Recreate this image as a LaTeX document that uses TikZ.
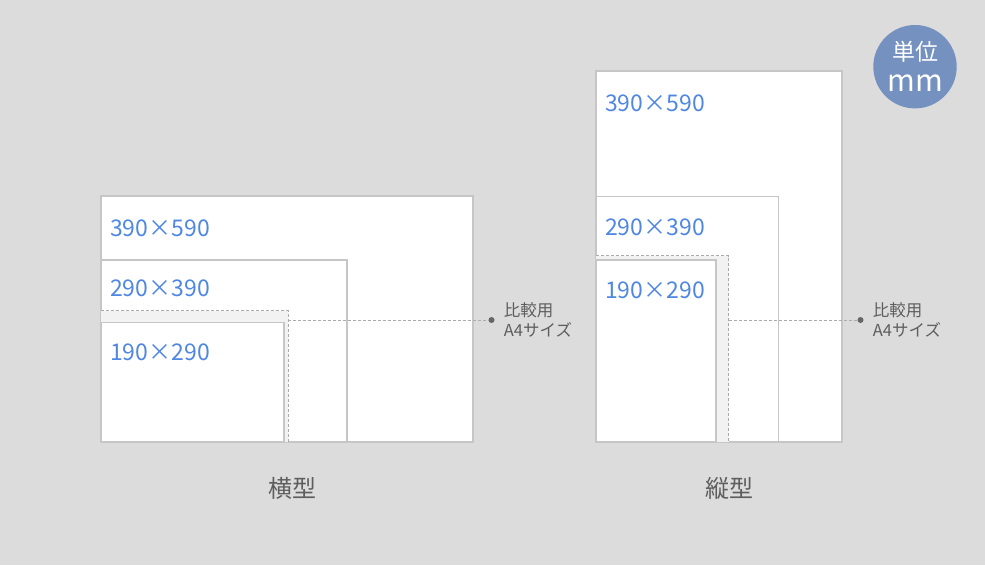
\documentclass[tikz,border=0pt]{standalone}
\usepackage{fontspec}
\setmainfont{Noto Sans CJK JP}
\usetikzlibrary{positioning}
\definecolor{bggray}{HTML}{DCDCDC}
\definecolor{edgegray}{HTML}{C6C6C6}
\definecolor{a4gray}{HTML}{F2F2F2}
\definecolor{dashgray}{HTML}{ABABAB}
\definecolor{numblue}{HTML}{4F87E2}
\definecolor{textgray}{HTML}{5E5E5E}
\definecolor{dotgray}{HTML}{666666}
\definecolor{unitblue}{HTML}{7591C0}

\begin{document}
\begin{tikzpicture}[
    x=1pt, y=-1pt,
    sheet/.style={rectangle, draw=edgegray, line width=1.5pt, fill=white, inner sep=0pt, outer sep=0pt, anchor=south west},
    a4sheet/.style={rectangle, fill=a4gray, inner sep=0pt, outer sep=0pt, anchor=south west},
    a4edge/.style={draw=dashgray, line width=1pt, dash pattern=on 3pt off 2pt},
    guide/.style={draw=dashgray, line width=1pt, dash pattern=on 3pt off 2pt},
    size/.style={anchor=base west, text=numblue, font=\fontsize{23}{23}\selectfont, inner sep=0pt},
    dot/.style={circle, fill=dotgray, inner sep=0pt, minimum size=6pt},
    cmp/.style={align=left, text=textgray, font=\fontsize{16.5}{20.5}\selectfont, inner sep=0pt, anchor=west},
    title/.style={text=textgray, font=\fontsize{24}{24}\selectfont, inner sep=0pt},
    unittext/.style={text=white, inner sep=0pt, anchor=base}
]
    \fill[bggray] (0,0) rectangle (985,565);

    % Landscape sheets
    \node[sheet, minimum width=372pt, minimum height=246pt] (bigL) at (101,442) {};
    \node[sheet, minimum width=246pt, minimum height=182pt] (midL) at (101,442) {};
    \node[a4sheet, minimum width=187pt, minimum height=131.5pt] (a4L) at (101,442) {};
    \draw[a4edge] (a4L.north west) -- (a4L.north east) -- (a4L.south east);
    \node[sheet, minimum width=183pt, minimum height=119.5pt] (smallL) at (101,442) {};

    \node[size] (sizeBigL) at (110,236.5) {390×590};
    \node[size] (sizeMidL) at (110,296.7) {290×390};
    \node[size] (sizeSmallL) at (110,360.7) {190×290};

    \node[dot] (dotL) at (491.5,320) {};
    \draw[guide] (a4L.east |- dotL) -- (dotL);
    \node[cmp, right=9pt of dotL] (cmpL) {比較用\\A4サイズ};

    % Portrait sheets
    \node[sheet, minimum width=246pt, minimum height=371pt] (bigP) at (596,442) {};
    \node[sheet, minimum width=182.5pt, minimum height=245.5pt] (midP) at (596,442) {};
    \node[a4sheet, minimum width=132.5pt, minimum height=186.5pt] (a4P) at (596,442) {};
    \draw[a4edge] (a4P.north west) -- (a4P.north east) -- (a4P.south east);
    \node[sheet, minimum width=120pt, minimum height=182pt] (smallP) at (596,442) {};

    \node[size] (sizeBigP) at (605,111.7) {390×590};
    \node[size] (sizeMidP) at (605,235.7) {290×390};
    \node[size] (sizeSmallP) at (605,298) {190×290};

    \node[dot] (dotP) at (860.5,320) {};
    \draw[guide] (a4P.east |- dotP) -- (dotP);
    \node[cmp, right=9pt of dotP] (cmpP) {比較用\\A4サイズ};

    % Titles below
    \node[title] (titleL) at (292,488) {横型};
    \node[title] (titleP) at (729,488) {縦型};

    % Unit badge
    \node[circle, fill=unitblue, minimum size=83.4pt, inner sep=0pt] (unit) at (915,66.7) {};
    \node[unittext, font=\fontsize{23}{23}\selectfont] (unitName) at (915,60.5) {単位};
    \node[unittext, font=\fontsize{30}{30}\selectfont] (unitMm) at (915,91.5) {mm};
\end{tikzpicture}
\end{document}
